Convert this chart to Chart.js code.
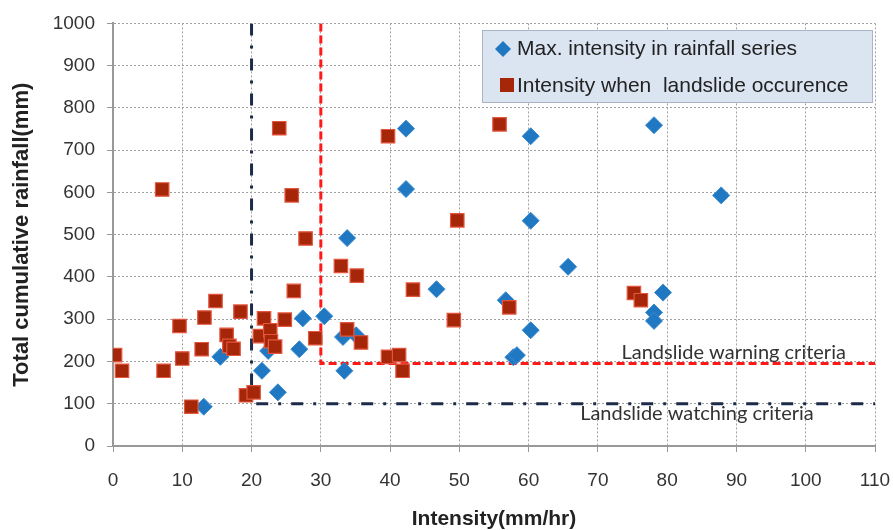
<!DOCTYPE html>
<html>
<head>
<meta charset="utf-8">
<script src="https://cdn.jsdelivr.net/npm/chart.js@4/dist/chart.umd.min.js"></script>
<style>
  html, body { margin: 0; padding: 0; background: #fff; }
  #wrap { width: 893px; height: 530px; }
</style>
</head>
<body>
<div id="wrap"><canvas id="rainChart" width="893" height="530"></canvas></div>
<script>
// Max. intensity in rainfall series (blue diamonds)
const maxIntensity = [13.1, 15.5, 21.5, 22.4, 23.8, 26.9, 27.4, 30.5, 33.2, 33.4, 33.8, 35.1, 42.3, 42.3,
  46.7, 56.7, 57.8, 58.3, 60.3, 60.3, 60.3, 65.7, 78.1, 79.4, 78.1, 78.1, 87.8];
const maxRainfall = [93, 211, 178, 225, 127, 229, 302, 307, 258, 178, 492, 262, 751, 608,
  371, 345, 210, 215, 733, 533, 274, 424, 759, 363, 316, 296, 593];

// Intensity when landslide occurence (red squares)
const slideIntensity = [0.3, 1.3, 7.1, 7.3, 9.6, 10.0, 11.3, 12.8, 13.2, 14.8, 16.4, 16.8, 17.4, 18.4,
  19.2, 20.3, 21.2, 21.8, 22.7, 22.8, 23.4, 24.0, 24.8, 25.8, 26.1, 27.8, 29.2, 32.9, 33.8, 35.2,
  35.8, 39.7, 39.7, 41.3, 41.8, 43.3, 49.2, 49.7, 55.8, 57.2, 75.2, 76.2];
const slideRainfall = [215, 178, 607, 178, 284, 207, 93, 229, 304, 343, 263, 237, 230, 318,
  120, 127, 260, 302, 274, 248, 235, 752, 299, 593, 367, 491, 255, 426, 276, 403,
  245, 733, 211, 215, 178, 370, 298, 534, 761, 328, 362, 345];

// criteria lines
const watchX = [20, 20, 110];
const watchY = [1000, 100, 100];
const warnX = [30, 30, 110];
const warnY = [1000, 195, 195];

const xTicks = [0, 10, 20, 30, 40, 50, 60, 70, 80, 90, 100, 110];
const yTicks = [0, 100, 200, 300, 400, 500, 600, 700, 800, 900, 1000];

function toPoints(xs, ys) {
  return xs.map((x, i) => ({ x: x, y: ys[i] }));
}

const axisFont = { size: 19, family: '"Liberation Sans", Arial, sans-serif' };
const titleFont = { size: 21, weight: 'bold', family: '"Liberation Sans", Arial, sans-serif', lineHeight: 1 };

// text labels next to the criteria lines + the boxed legend
const notesPlugin = {
  id: 'notes',
  afterDatasetsDraw(chart) {
    const ctx = chart.ctx;
    const sx = chart.scales.x, sy = chart.scales.y;
    ctx.save();
    ctx.fillStyle = '#333';
    ctx.font = '20px Lato';
    ctx.textAlign = 'center';
    ctx.textBaseline = 'middle';
    ctx.fillText('Landslide warning criteria', sx.getPixelForValue(89.6), sy.getPixelForValue(222));
    ctx.fillText('Landslide watching criteria', sx.getPixelForValue(84.3), sy.getPixelForValue(77));

    // legend box
    ctx.fillStyle = '#dbe5f1';
    ctx.strokeStyle = '#aab4c4';
    ctx.lineWidth = 1;
    ctx.fillRect(482, 30, 390, 72);
    ctx.strokeRect(482.5, 30.5, 390, 72);

    ctx.fillStyle = '#1f78c1';
    ctx.beginPath();
    ctx.moveTo(503, 41); ctx.lineTo(511, 49); ctx.lineTo(503, 57); ctx.lineTo(495, 49);
    ctx.closePath();
    ctx.fill();

    ctx.fillStyle = '#a62609';
    ctx.fillRect(500, 78, 14, 14);

    ctx.fillStyle = '#222';
    ctx.font = '21px "Liberation Sans", Arial, sans-serif';
    ctx.textAlign = 'left';
    ctx.fillText('Max. intensity in rainfall series', 517, 49);
    ctx.fillText('Intensity when  landslide occurence', 517, 86);
    ctx.restore();
  }
};

const ctx = document.getElementById('rainChart').getContext('2d');
new Chart(ctx, {
  type: 'scatter',
  data: {
    datasets: [
      {
        label: 'Intensity when landslide occurence',
        data: toPoints(slideIntensity, slideRainfall),
        pointStyle: 'rect',
        pointRadius: 9.5,
        backgroundColor: '#a62609',
        borderColor: '#e4553d',
        borderWidth: 1.2,
        order: 0
      },
      {
        label: 'Max. intensity in rainfall series',
        data: toPoints(maxIntensity, maxRainfall),
        pointStyle: 'rectRot',
        pointRadius: 8.5,
        backgroundColor: '#1f78c1',
        borderColor: '#3a8bd0',
        borderWidth: 1,
        order: 1
      },
      {
        type: 'line',
        label: 'warning',
        data: toPoints(warnX, warnY),
        borderColor: '#ff1a1a',
        borderWidth: 3,
        borderDash: [8, 4],
        pointRadius: 0,
        fill: false,
        order: 2
      },
      {
        type: 'line',
        label: 'watching',
        data: toPoints(watchX, watchY),
        borderColor: '#1b2b48',
        borderWidth: 3,
        borderDash: [12, 10, 3, 10],
        pointRadius: 0,
        fill: false,
        order: 3
      }
    ]
  },
  options: {
    responsive: false,
    animation: false,
    layout: { padding: { top: 23, right: 18, left: 0, bottom: 0 } },
    plugins: {
      legend: { display: false },
      tooltip: { enabled: false }
    },
    scales: {
      x: {
        type: 'linear',
        min: xTicks[0],
        max: xTicks[xTicks.length - 1],
        afterFit: s => { s.height = 84; s.paddingLeft = 0; s.paddingRight = 0; },
        afterBuildTicks: s => { s.ticks = xTicks.map(v => ({ value: v })); },
        grid: { color: '#a0a0a0', tickColor: '#999', tickLength: 6, tickBorderDash: [] },
        border: { color: '#999', width: 2, dash: [2, 2] },
        ticks: { color: '#333', font: axisFont, padding: 17, callback: v => String(v) },
        title: {
          display: true,
          text: 'Intensity(mm/hr)',
          color: '#222',
          font: titleFont,
          padding: 0
        }
      },
      y: {
        type: 'linear',
        min: yTicks[0],
        max: yTicks[yTicks.length - 1],
        afterFit: s => { s.width = 113; },
        afterBuildTicks: s => { s.ticks = yTicks.map(v => ({ value: v })); },
        grid: { color: '#a0a0a0', tickColor: '#999', tickLength: 6, tickBorderDash: [] },
        border: { color: '#999', width: 2, dash: [2, 2] },
        ticks: { color: '#333', font: axisFont, padding: 12, callback: v => String(v) },
        title: {
          display: true,
          text: 'Total cumulative rainfall(mm)',
          color: '#222',
          font: { size: 22, weight: 'bold', family: '"Liberation Sans", Arial, sans-serif', lineHeight: 1 },
          padding: { top: 11, bottom: 0 }
        }
      }
    }
  },
  plugins: [notesPlugin]
});
</script>
</body>
</html>
